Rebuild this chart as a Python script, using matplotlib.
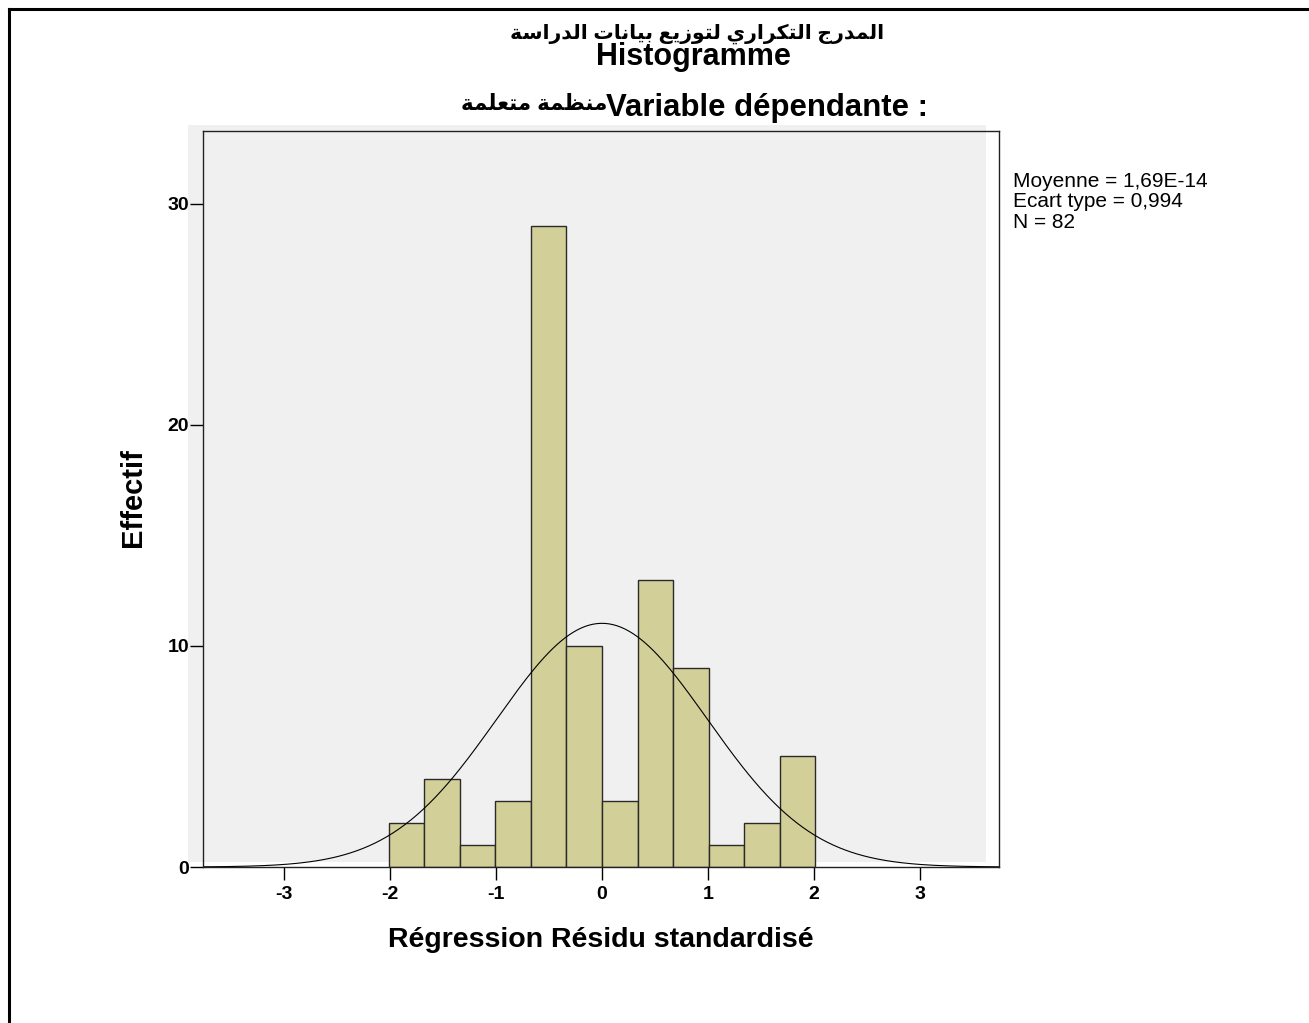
import numpy as np
import matplotlib
matplotlib.use("Agg")
import matplotlib.pyplot as plt
from matplotlib.patches import Rectangle

# ---------------- data ----------------
bin_edges_start = -2.01
bin_width = 0.335
counts = [2, 4, 1, 3, 29, 10, 3, 13, 9, 1, 2, 5]
x_ticks = [-3, -2, -1, 0, 1, 2, 3]
y_ticks = [0, 10, 20, 30]
mean_val = 1.69e-14
std_val = 0.994
n_val = 82
stats_lines = ["Moyenne = 1,69E-14", "Ecart type = 0,994", "N = 82"]
title_ar = "المدرج التكراري لتوزيع بيانات الدراسة"
title_main = "Histogramme"
var_ar = "منظمة متعلمة"
var_fr = "Variable dépendante :"
xlabel = "Régression Résidu standardisé"
ylabel = "Effectif"

# ------------- minimal Arabic shaping -------------
FORMS = {  # isolated, final, initial, medial
    'ا': (0xFE8D, 0xFE8E, None, None),
    'ب': (0xFE8F, 0xFE90, 0xFE91, 0xFE92),
    'ة': (0xFE93, 0xFE94, None, None),
    'ت': (0xFE95, 0xFE96, 0xFE97, 0xFE98),
    'ج': (0xFE9D, 0xFE9E, 0xFE9F, 0xFEA0),
    'د': (0xFEA9, 0xFEAA, None, None),
    'ر': (0xFEAD, 0xFEAE, None, None),
    'ز': (0xFEAF, 0xFEB0, None, None),
    'س': (0xFEB1, 0xFEB2, 0xFEB3, 0xFEB4),
    'ظ': (0xFEC5, 0xFEC6, 0xFEC7, 0xFEC8),
    'ع': (0xFEC9, 0xFECA, 0xFECB, 0xFECC),
    'ك': (0xFED9, 0xFEDA, 0xFEDB, 0xFEDC),
    'ل': (0xFEDD, 0xFEDE, 0xFEDF, 0xFEE0),
    'م': (0xFEE1, 0xFEE2, 0xFEE3, 0xFEE4),
    'ن': (0xFEE5, 0xFEE6, 0xFEE7, 0xFEE8),
    'و': (0xFEED, 0xFEEE, None, None),
    'ي': (0xFEF1, 0xFEF2, 0xFEF3, 0xFEF4),
}


def dual(c):
    return c in FORMS and FORMS[c][2] is not None


def shape(text):
    out = []
    for i, c in enumerate(text):
        if c not in FORMS:
            out.append(c)
            continue
        prev = text[i - 1] if i > 0 else ''
        nxt = text[i + 1] if i + 1 < len(text) else ''
        jp = dual(prev)
        jn = dual(c) and nxt in FORMS
        iso, fin, ini, med = FORMS[c]
        if jp and jn:
            g = med
        elif jp:
            g = fin
        elif jn:
            g = ini
        else:
            g = iso
        out.append(chr(g))
    return ''.join(out)[::-1]


FAM = ['Liberation Sans', 'DejaVu Sans']
plt.rcParams['font.family'] = FAM

W, H = 1309, 1023
fig = plt.figure(figsize=(W / 100, H / 100), dpi=100)


def fx(px):
    return px / W


def fy(py):
    return 1 - py / H


# outer frame (top & left visible)
fig.add_artist(plt.Line2D([fx(9), fx(1309)], [fy(9), fy(9)], color='black', lw=2.2, transform=fig.transFigure))
fig.add_artist(plt.Line2D([fx(9), fx(9)], [fy(9), fy(1023)], color='black', lw=2.2, transform=fig.transFigure))

# gray plot background
fig.add_artist(Rectangle((fx(188), fy(862)), fx(986) - fx(188), fy(125) - fy(862),
                         transform=fig.transFigure, facecolor='#f0f0f0', edgecolor='none', zorder=0))

ax = fig.add_axes([fx(203), fy(867), fx(999) - fx(203), fy(131) - fy(867)])
ax.patch.set_alpha(0)
ax.set_zorder(1)

lefts = [bin_edges_start + i * bin_width for i in range(len(counts))]
ax.bar(lefts, counts, width=bin_width, align='edge', color='#d3cf98', edgecolor='#2a2a2a', linewidth=1.0)

xs = np.linspace(-3.8, 3.8, 400)
pdf = n_val * bin_width * np.exp(-0.5 * ((xs - mean_val) / std_val) ** 2) / (std_val * np.sqrt(2 * np.pi))
ax.plot(xs, pdf, color='black', lw=0.8)

ax.set_xlim(-3.764, 3.745)
ax.set_ylim(0, 33.3)
ax.set_xticks(x_ticks)
ax.set_xticklabels([str(v) for v in x_ticks])
ax.set_yticks(y_ticks)
ax.set_yticklabels([str(v) for v in y_ticks])
ax.tick_params(axis='both', length=9.5, width=1, labelsize=14, direction='out')
ax.tick_params(axis='y', pad=0.5)
ax.tick_params(axis='x', pad=4)
for lab in ax.get_xticklabels() + ax.get_yticklabels():
    lab.set_fontweight('bold')
for s in ax.spines.values():
    s.set_linewidth(1.0)
    s.set_color('#222222')

ax.set_xlabel(xlabel, fontsize=20.5, fontweight='bold', va='center')
ax.set_ylabel(ylabel, fontsize=21, fontweight='bold', va='center')
ax.xaxis.set_label_coords((601 - 203) / 796, (867 - 940) / 736)
ax.yaxis.set_label_coords((133 - 203) / 796, (867 - 498) / 736)

# titles
fig.text(fx(697), fy(34), shape(title_ar), ha='center', va='center', fontsize=14.7, fontweight='bold', family=FAM)
fig.text(fx(693), fy(57), title_main, ha='center', va='center', fontsize=22, fontweight='bold', family=FAM)
fig.text(fx(928), fy(108), var_fr, ha='right', va='center', fontsize=22.4, fontweight='bold', family=FAM)
fig.text(fx(607), fy(105), shape(var_ar), ha='right', va='center', fontsize=15.5, fontweight='bold', family=FAM)

# stats
for i, line in enumerate(stats_lines):
    fig.text(fx(1013), fy(181 + i * 20.5), line, ha='left', va='center', fontsize=15, family=FAM)

fig.savefig('out.png', dpi=100)
